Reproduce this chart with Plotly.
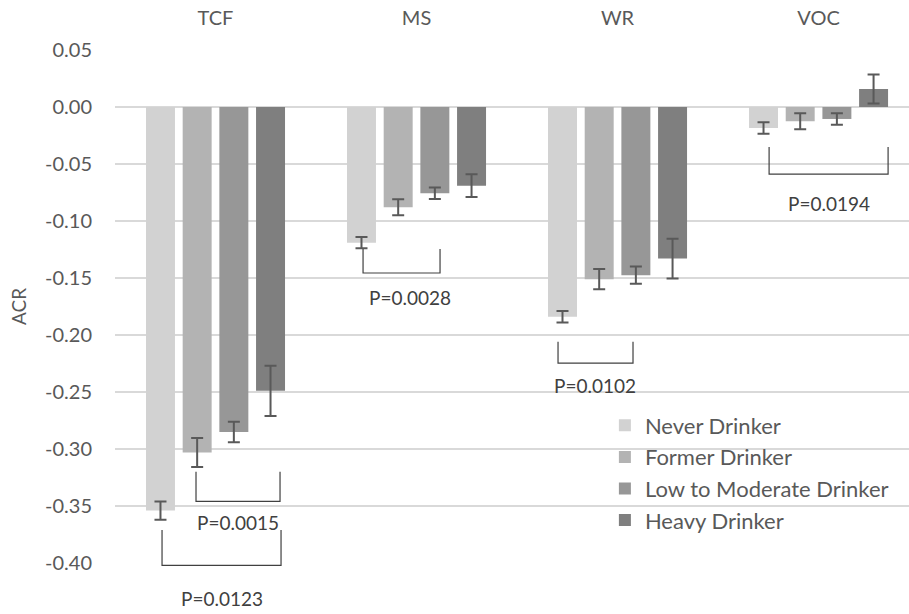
import plotly.graph_objects as go

categories = ["TCF", "MS", "WR", "VOC"]
groups = ["Never Drinker", "Former Drinker", "Low to Moderate Drinker", "Heavy Drinker"]
colors = ["#d2d2d2", "#b3b3b3", "#979797", "#7f7f7f"]

never_vals = [-0.354, -0.119, -0.184, -0.0184]
former_vals = [-0.303, -0.088, -0.151, -0.0125]
lowmod_vals = [-0.285, -0.0757, -0.1475, -0.0105]
heavy_vals = [-0.249, -0.069, -0.133, 0.0158]

never_err = [0.008, 0.005, 0.005, 0.005]
former_err = [0.0127, 0.007, 0.0088, 0.007]
lowmod_err = [0.009, 0.005, 0.0075, 0.005]
heavy_err = [0.022, 0.010, 0.0175, 0.0127]

y_tick_vals = [0.05, 0.0, -0.05, -0.10, -0.15, -0.20, -0.25, -0.30, -0.35, -0.40]
y_tick_text = ["0.05", "0.00", "-0.05", "-0.10", "-0.15", "-0.20", "-0.25", "-0.30", "-0.35", "-0.40"]

# significance brackets: x-left, x-right (category units), y top of legs, y of bar, label
br_x0 = [-0.097, -0.266, 0.734, 1.704, 2.754]
br_x1 = [0.321, 0.326, 1.117, 2.077, 3.346]
br_ytop = [-0.320, -0.371, -0.1246, -0.206, -0.035]
br_ybot = [-0.346, -0.402, -0.1456, -0.2246, -0.0588]
p_labels = ["P=0.0015", "P=0.0123", "P=0.0028", "P=0.0102", "P=0.0194"]
p_label_x = [0.112, 0.030, 0.970, 1.890, 3.050]
p_label_y = [-0.3645, -0.4315, -0.1675, -0.2445, -0.0845]

values = [never_vals, former_vals, lowmod_vals, heavy_vals]
errors = [never_err, former_err, lowmod_err, heavy_err]

Y_RANGE = [-0.40, 0.05]
X_RANGE = [-0.5, 3.45]

FONT = "Lato"
TXT = "#595959"


def to_paper(v):
    return (v - Y_RANGE[0]) / (Y_RANGE[1] - Y_RANGE[0])


fig = go.Figure()
for i, g in enumerate(groups):
    fig.add_trace(go.Bar(
        x=list(range(len(categories))), y=values[i], name=g,
        marker=dict(color=colors[i], line=dict(width=0)),
        error_y=dict(type="data", array=errors[i], visible=True,
                     color="#595959", thickness=2, width=6),
        legendgroup=g,
    ))

shapes = []
for x0, x1, yt, yb in zip(br_x0, br_x1, br_ytop, br_ybot):
    pt, pb = to_paper(yt), to_paper(yb)
    shapes.append(dict(type="path", xref="x", yref="paper",
                       path=f"M {x0} {pt} L {x0} {pb} L {x1} {pb} L {x1} {pt}",
                       line=dict(color="#404040", width=1.2)))

annotations = []
for lx, ly, t in zip(p_label_x, p_label_y, p_labels):
    annotations.append(dict(x=lx, y=to_paper(ly), xref="x", yref="paper", text=t,
                            showarrow=False,
                            font=dict(family=FONT, size=19, color="#404040"),
                            xanchor="center", yanchor="middle"))

fig.update_layout(
    width=909, height=614,
    margin=dict(l=115, r=0, t=50, b=51),
    paper_bgcolor="white", plot_bgcolor="white",
    barmode="group", bargap=0.27, bargroupgap=0.21,
    font=dict(family=FONT, size=19, color=TXT),
    shapes=shapes, annotations=annotations,
    legend=dict(x=0.617, y=0.309, xanchor="left", yanchor="top",
                bgcolor="rgba(0,0,0,0)", font=dict(family=FONT, size=22, color=TXT),
                traceorder="grouped", tracegroupgap=0),
    xaxis=dict(side="top", tickmode="array", tickvals=list(range(len(categories))),
               ticktext=categories, range=X_RANGE, showgrid=False, zeroline=False,
               showline=False, ticks="outside", ticklen=16, tickcolor="rgba(0,0,0,0)",
               automargin=False,
               tickfont=dict(family=FONT, size=20, color=TXT)),
    yaxis=dict(range=Y_RANGE, tickmode="array", tickvals=y_tick_vals, ticktext=y_tick_text,
               showgrid=True,
               gridcolor="#d9d9d9", gridwidth=1.5, zeroline=False, showline=False,
               automargin=False, ticklabelstandoff=22,
               tickfont=dict(family=FONT, size=20, color=TXT),
               title=dict(text="ACR", font=dict(family=FONT, size=19, color=TXT), standoff=13)),
)

fig.write_html("out.html", config={"displayModeBar": False},
               post_script="document.body.style.margin='0px';")
